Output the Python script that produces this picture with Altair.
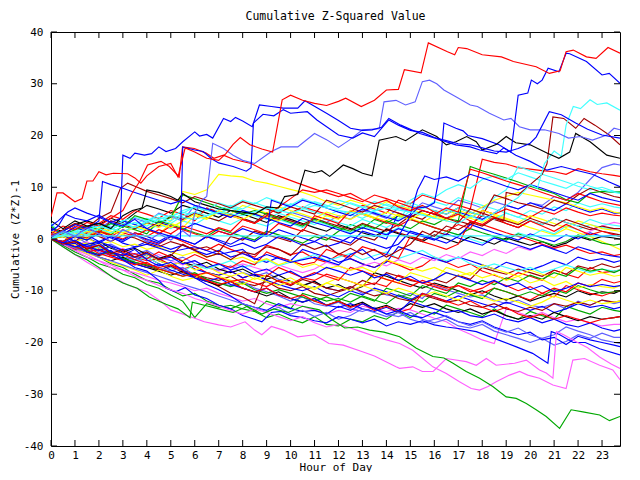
import altair as alt
import pandas as pd

FONT = "DejaVu Sans Mono"
FS = 11
TITLE = "Cumulative Z-Squared Value"

RED = "#ff0000"
DRED = "#a00000"
GREEN = "#00a800"
BLUE = "#0000ff"
LBLUE = "#6060ff"
MAG = "#ff60ff"
CYAN = "#40ffff"
YEL = "#ffff00"
BLACK = "#000000"

X_TICKS = list(range(24))
Y_TICKS = list(range(-40, 41, 10))

# half-hour sampling grid used by the denser mid-band series
HALF_HOURS = [i / 2 for i in range(48)] + [23.75]

# ---------- traced outlier series: (hour, value) ----------
red_top = [(0, 4.3), (0.25, 8.9), (0.5, 8.9), (1.0, 7.2), (1.3, 7.8), (1.5, 11.2), (1.75, 11.2), (2.0, 13.0),
           (2.3, 12.4), (2.6, 12.7), (3.2, 12.6), (3.5, 11.8), (3.75, 10.8), (4.0, 12.2), (4.5, 14.0), (5.0, 14.6),
           (5.3, 12.0), (5.6, 17.6), (6.0, 16.8), (6.5, 15.6), (7.0, 15.2), (7.3, 16.5), (7.6, 18.3), (7.9, 19.6),
           (8.3, 18.2), (8.8, 17.4), (9.25, 16.8), (9.65, 26.9), (10.0, 27.8), (10.5, 26.8), (11.0, 26.2),
           (11.5, 25.8), (12.0, 26.6), (12.3, 27.2), (12.95, 25.6), (13.5, 26.8), (14.0, 28.8), (14.5, 28.9),
           (14.75, 32.7), (15.45, 32.1), (15.75, 37.9), (16.55, 36.2), (16.85, 35.6), (17.0, 37.0), (17.35, 36.8),
           (18.0, 35.6), (18.8, 35.2), (19.3, 34.3), (20.25, 33.3), (20.8, 32.0), (21.25, 32.5), (21.5, 36.2),
           (21.8, 36.5), (22.35, 35.2), (22.75, 34.9), (23.25, 37.0), (23.75, 35.9)]

blue_a = [(0, 1.5), (0.3, 2.5), (0.6, 4.8), (1.0, 4.0), (1.5, 3.5), (2.0, 4.6), (2.5, 3.2), (2.9, 4.0),
          (3.0, 16.2), (3.3, 15.6), (3.5, 16.6), (3.9, 16.2), (4.2, 16.5), (4.5, 17.8), (4.8, 16.9), (5.2, 17.5),
          (5.5, 18.8), (6.0, 20.7), (6.2, 19.9), (6.5, 20.2), (6.75, 19.5), (7.2, 23.3), (7.5, 22.7), (7.7, 23.5),
          (8.0, 22.8), (8.4, 21.7), (8.7, 25.9), (9.2, 25.6), (9.7, 25.3), (10.3, 25.3), (10.6, 26.7), (11.5, 24.3),
          (12.0, 22.9), (12.5, 21.4), (13.0, 21.0), (13.4, 21.1), (13.8, 21.6), (14.1, 23.3), (14.6, 22.0),
          (15.4, 20.4), (16.1, 19.4), (16.9, 18.2), (17.5, 17.8), (17.9, 17.2), (18.6, 16.5), (18.9, 17.6),
          (19.2, 16.8), (19.5, 27.8), (19.9, 28.2), (20.05, 30.7), (20.3, 30.0), (20.5, 30.7), (20.75, 33.0),
          (21.2, 32.3), (21.5, 35.9), (21.65, 35.8), (22.35, 34.3), (23.0, 31.7), (23.3, 32.0), (23.75, 30.1)]

blue_b = [(0, 2.5), (0.3, 3.5), (0.7, 5.2), (1.0, 6.0), (1.5, 5.0), (2.0, 4.2), (2.5, 3.2), (3.0, 2.5),
          (3.5, 3.8), (4.0, 2.0), (4.5, 1.2), (5.0, 0.5), (5.4, 0.0), (5.5, 17.8), (6.0, 17.2), (6.35, 16.9),
          (6.7, 15.5), (7.0, 14.7), (7.6, 14.0), (8.15, 13.1), (8.35, 13.8), (8.45, 22.4), (8.85, 24.1),
          (9.3, 23.8), (9.7, 25.0), (10.0, 24.3), (10.7, 24.6), (11.1, 23.0), (12.0, 20.1), (12.6, 19.5),
          (13.0, 20.5), (13.5, 19.8), (14.1, 23.0), (14.5, 22.0), (15.0, 21.0), (15.5, 20.6), (16.0, 19.6),
          (16.5, 19.0), (17.0, 18.4), (17.5, 18.2), (18.0, 17.6), (18.5, 17.0), (19.0, 16.8), (19.5, 17.5),
          (20.0, 18.5), (20.25, 19.7), (20.8, 24.6), (21.3, 24.0), (21.9, 22.4), (22.4, 21.2), (23.0, 20.1),
          (23.75, 19.5)]

lblue_top = [(0, 0.5), (0.5, 1.5), (1.0, 0.5), (1.5, 2.2), (2.0, 1.0), (2.5, -0.5), (3.0, 1.8), (3.5, 0.8),
             (4.0, -0.5), (4.5, 1.0), (5.0, -0.2), (5.5, 1.6), (5.8, 0.5), (6.0, 5.0), (6.3, 7.5), (6.5, 8.2),
             (6.75, 18.5), (7.2, 17.5), (7.6, 16.2), (8.0, 15.2), (8.5, 14.6), (9.2, 16.9), (9.6, 17.8),
             (10.3, 17.8), (11.0, 20.4), (11.5, 19.2), (12.0, 17.7), (12.45, 19.1), (13.0, 21.1), (13.7, 21.3),
             (13.9, 26.5), (14.4, 26.8), (14.8, 25.9), (15.2, 26.5), (15.5, 30.4), (15.8, 30.7), (16.1, 30.0),
             (16.4, 28.8), (16.9, 27.5), (17.5, 25.9), (17.8, 25.6), (18.3, 24.3), (18.9, 23.0), (19.2, 23.3),
             (19.55, 21.7), (20.0, 21.1), (20.6, 21.1), (21.2, 20.4), (21.6, 19.5), (22.1, 19.8), (22.6, 19.1),
             (23.2, 20.1), (23.5, 21.4), (23.75, 21.1)]

black_top = [(0, 3.5), (0.5, 2.0), (1.0, 3.5), (1.5, 2.5), (2.0, 3.0), (2.5, 2.0), (3.0, 4.5), (3.4, 5.5),
             (3.8, 6.0), (4.0, 9.5), (4.5, 9.0), (5.0, 8.2), (5.3, 7.5), (5.5, 8.8), (6.0, 7.2), (6.5, 6.5),
             (7.0, 5.8), (7.5, 5.5), (8.0, 5.2), (8.5, 4.8), (9.0, 6.2), (9.5, 6.0), (9.75, 8.2), (10.3, 8.6),
             (10.6, 13.3), (11.0, 12.8), (11.3, 13.2), (11.63, 12.1), (12.2, 14.3), (12.6, 13.6), (13.0, 12.7),
             (13.4, 12.2), (13.7, 19.1), (14.4, 19.8), (14.8, 19.0), (15.5, 21.1), (16.1, 19.8), (16.5, 18.2),
             (16.9, 18.8), (17.35, 19.8), (17.75, 18.8), (18.0, 17.2), (18.6, 18.3), (19.0, 19.8), (19.4, 18.6),
             (20.0, 18.2), (20.7, 16.6), (21.2, 15.6), (21.65, 16.8), (21.9, 20.4), (22.5, 18.8), (23.2, 16.2),
             (23.75, 15.6)]

dred_top = [(0, 0), (0.5, -1.0), (1.0, -0.5), (1.5, -2.0), (2.0, -1.2), (2.5, -2.8), (3.0, -2.0), (3.5, -3.5),
            (4.0, -2.5), (4.5, -4.0), (5.0, -3.2), (5.5, -1.0), (6.0, -2.2), (6.5, -3.5), (7.0, -2.8), (7.5, -4.0),
            (8.0, -2.5), (8.5, -3.0), (9.0, -1.5), (9.5, -2.0), (10.0, -3.2), (10.5, -1.0), (11.0, -2.0),
            (11.5, -1.2), (12.0, -3.0), (12.5, -1.8), (13.0, -3.0), (13.5, -2.0), (14.0, -3.5), (14.5, -2.2),
            (15.0, -1.0), (15.5, 1.5), (16.0, 0.5), (16.5, 2.5), (17.0, 1.8), (17.5, 3.2), (18.0, 2.5), (18.5, 4.0),
            (18.9, 3.5), (19.0, 9.0), (19.5, 8.5), (20.0, 10.5), (20.5, 12.5), (20.7, 14.5), (20.95, 23.6),
            (21.4, 23.3), (21.9, 21.4), (22.25, 23.3), (22.7, 22.0), (23.3, 20.1), (23.75, 18.2)]

cyan_top = [(0, 0), (0.5, 1.5), (1.0, 0.8), (2.0, 2.5), (3.0, 1.5), (4.0, 3.2), (5.0, 4.5), (6.0, 3.8), (7.0, 5.2),
            (8.0, 4.5), (9.0, 6.0), (10.0, 5.0), (11.0, 6.5), (12.0, 5.5), (13.0, 4.8), (14.0, 6.0), (15.0, 5.2),
            (16.0, 4.0), (17.0, 3.0), (17.5, 4.5), (18.0, 3.5), (18.5, 5.0), (19.0, 6.5), (19.5, 8.0), (20.0, 10.5),
            (20.3, 9.8), (20.6, 14.6), (21.0, 17.0), (21.3, 16.0), (21.5, 22.0), (21.8, 25.6), (22.1, 25.2),
            (22.5, 26.9), (22.8, 26.0), (23.2, 26.3), (23.75, 24.9)]

blue_d = [(0, 0), (1, -1.5), (2, -0.5), (3, -2.2), (4, -1.0), (5, -2.5), (6, -1.5), (7, -3.0), (8, -2.0),
          (8.5, -4.0), (9, -3.0), (10, -4.5), (11, -3.5), (12, -5.0), (12.5, -3.0), (13, -2.0), (13.5, -4.0),
          (14, -3.0), (14.5, 0.5), (15.0, 4.5), (15.3, 6.0), (15.7, 6.2), (16.0, 7.0), (16.2, 11.8), (16.4, 22.4),
          (16.9, 21.4), (17.2, 20.9), (17.4, 20.0), (18.0, 19.4), (18.7, 18.2), (19.4, 16.2), (20.0, 15.0),
          (20.7, 13.3), (21.3, 14.0), (22.0, 13.2), (22.6, 12.5), (23.3, 11.0), (23.75, 10.1)]

blue_low1 = [(0, 0), (0.5, -1.2), (1, -0.8), (1.5, -2.5), (2, -3.0), (2.5, -2.2), (3, -4.0), (3.5, -5.5), (4, -6.2),
             (4.5, -8.0), (4.8, -9.5), (5.2, -10.2), (5.6, -9.4), (6, -10.8), (6.5, -11.5), (7, -12.8),
             (7.5, -13.5), (8, -14.8), (8.5, -15.5), (8.8, -16.0), (9.2, -14.2), (9.6, -14.0), (10, -14.8),
             (10.5, -15.2), (11, -15.8), (11.5, -16.2), (12, -15.0), (12.5, -15.5), (13, -16.2), (13.5, -15.5),
             (14, -16.8), (14.5, -16.0), (15, -16.5), (15.5, -15.8), (16, -16.6), (16.5, -17.0), (17, -17.3),
             (17.75, -17.9), (18.5, -19.2), (19.4, -20.8), (20.1, -22.1), (20.74, -24.0), (20.88, -17.9),
             (21.2, -18.4), (21.8, -20.0), (22.3, -20.0), (22.9, -21.2), (23.75, -22.4)]

mag_a = [(0, 0), (0.5, -1.5), (1, -3.0), (1.5, -4.5), (2.3, -6.6), (3.2, -8.9), (4.0, -10.2), (4.6, -12.1),
         (5.0, -13.7), (6.0, -15.3), (6.4, -16.0), (7.0, -16.6), (7.5, -17.0), (8.1, -16.0), (8.5, -17.6),
         (8.8, -18.5), (9.2, -16.9), (9.7, -17.6), (10.3, -18.9), (11.0, -18.5), (11.6, -20.2), (12.2, -20.5),
         (13.0, -21.8), (13.5, -22.6), (14.4, -24.7), (14.55, -25.0), (15.1, -24.7), (15.5, -25.6), (15.95, -25.6),
         (16.5, -23.1), (17.33, -23.7), (17.75, -24.4), (18.17, -23.1), (18.58, -24.4), (19.35, -24.0),
         (19.84, -23.4), (20.39, -25.3), (20.67, -25.9), (20.95, -26.9), (21.1, -17.9), (21.4, -18.5),
         (21.9, -19.8), (22.4, -21.0), (22.9, -22.8), (23.4, -24.2), (23.75, -25.0)]

mag_b = [(0, 0), (0.5, -1.0), (1, -2.2), (1.5, -3.5), (2, -4.2), (2.5, -5.5), (3, -6.0), (3.5, -7.2), (4, -8.0),
         (4.5, -9.0), (5, -9.8), (5.5, -10.5), (6, -11.5), (6.5, -12.2), (7, -13.0), (7.5, -13.8), (8, -14.5),
         (8.5, -13.5), (9, -14.2), (9.5, -15.0), (10, -15.8), (10.5, -15.0), (11, -16.2), (11.5, -17.0),
         (12, -16.5), (12.5, -17.2), (13, -18.0), (13.5, -18.8), (14, -19.5), (14.55, -20.2), (15.1, -21.5),
         (15.94, -24.7), (16.5, -26.0), (17.05, -27.6), (17.54, -28.9), (17.89, -29.2), (18.24, -28.5),
         (18.58, -27.6), (19.14, -26.3), (19.56, -25.6), (19.9, -26.3), (20.39, -26.9), (20.95, -28.2),
         (21.5, -28.9), (21.78, -23.4), (22.27, -23.1), (22.9, -24.4), (23.45, -25.3), (23.75, -27.2)]

green_bottom = [(0, 0), (0.5, -1.5), (1, -3.0), (1.5, -4.0), (2, -5.5), (2.6, -7.5), (3.0, -8.5), (3.6, -9.5),
                (4.1, -11.2), (4.8, -12.6), (5.3, -13.5), (5.8, -15.2), (5.9, -12.2), (6.4, -12.8), (7.0, -13.5),
                (7.6, -14.2), (8.2, -13.0), (8.8, -14.5), (9.3, -13.5), (9.9, -14.2), (10.5, -13.0), (11.2, -13.7),
                (11.7, -15.5), (12.26, -17.2), (12.8, -17.0), (13.3, -17.6), (13.9, -18.0), (14.55, -18.9),
                (15.25, -21.1), (15.94, -22.7), (16.4, -23.0), (16.78, -24.0), (17.33, -25.6), (17.89, -26.9),
                (18.44, -28.5), (19.0, -30.5), (19.42, -30.8), (19.84, -31.8), (20.25, -33.0), (20.67, -34.3),
                (21.23, -36.6), (21.71, -33.0), (22.2, -33.4), (22.9, -34.0), (23.31, -35.1), (23.75, -34.3)]

cyan_flat = [(0, 0), (0.25, 0.6), (23.75, 0.6)]

red_up2 = [(0, 1.0), (0.5, 2.5), (1, 1.8), (1.5, 3.2), (2, 2.5), (2.5, 4.0), (3, 5.5), (3.4, 9.0), (3.7, 11.1),
           (4.03, 14.3), (4.59, 15.0), (4.94, 14.0), (5.35, 12.0), (5.49, 17.8), (5.98, 17.5), (6.47, 16.6),
           (6.8, 15.6), (7.2, 16.2), (7.6, 15.4), (8.35, 14.6), (8.9, 13.3), (9.6, 12.0), (10.3, 10.8),
           (11.1, 9.5), (12.0, 8.2), (12.5, 8.8), (13.0, 7.6), (13.5, 6.8), (14.0, 7.5), (14.5, 6.2), (15.0, 5.5),
           (15.5, 6.5), (16.0, 5.2), (16.5, 4.0), (17.0, 4.8), (17.5, 3.5), (18.0, 2.8), (18.5, 4.2), (19.0, 3.0),
           (19.5, 2.2), (20.0, 3.5), (20.5, 2.5), (21.0, 1.5), (21.5, 2.8), (22.0, 1.8), (22.5, 0.8), (23.0, 1.5),
           (23.75, 0.5)]
dred_up2 = [(0, 0.5), (0.5, 1.8), (1, 3.0), (1.5, 2.2), (2, 4.0), (2.5, 5.2), (2.9, 9.8), (3.2, 10.8), (3.6, 10.0),
            (4, 9.2), (4.5, 8.5), (5, 7.8), (5.5, 7.0), (6, 8.2), (6.5, 7.5), (7, 6.8), (7.5, 6.0), (8, 7.2),
            (8.5, 6.5), (9, 5.8), (9.5, 5.0), (10, 6.2), (10.5, 5.5), (11, 4.8), (11.5, 7.5), (12, 6.8), (12.5, 6.0),
            (13, 5.2), (13.5, 6.5), (14, 5.8), (14.5, 5.0), (15, 4.2), (15.5, 5.5), (16, 4.8), (16.5, 4.0),
            (17, 3.2), (17.5, 5.8), (18, 5.0), (18.5, 4.2), (19, 3.5), (19.5, 2.8), (20, 4.0), (20.5, 3.2),
            (21, 2.5), (21.5, 3.8), (22, 3.0), (22.5, 2.2), (23, 1.5), (23.75, 0.8)]
blue_up2 = [(0, 0), (0.5, 1.5), (1, 2.8), (1.5, 2.0), (2.0, 3.5), (2.15, 11.1), (2.5, 10.5), (3, 9.8), (3.5, 9.0),
            (4, 8.2), (4.5, 7.5), (5, 6.8), (5.5, 7.5), (6, 6.5), (6.5, 5.8), (7, 5.0), (7.5, 4.2), (8, 5.5),
            (8.5, 4.8), (9, 4.0), (9.5, 3.2), (10, 2.5), (10.5, 4.0), (11, 3.2), (11.5, 2.5), (12, 1.8), (12.5, 1.0),
            (13, 2.2), (13.5, 1.5), (14, 0.8), (14.5, 2.0), (15, 1.2), (15.5, 0.5), (16, -0.2), (16.5, 1.0),
            (17, 0.2), (17.5, -0.5), (18, -1.2), (18.5, 0.2), (19, -0.5), (19.5, -1.2), (20, -2.0), (20.5, -1.2),
            (21, -2.0), (21.5, -2.8), (22, -1.5), (22.5, -2.2), (23, -3.0), (23.75, -3.5)]
blue_up3 = [(0, 0), (0.5, -0.8), (1, 0.5), (1.5, -0.2), (2, 1.0), (2.5, 0.2), (3, -0.5), (3.5, 0.8), (4, 0.0),
            (4.5, -0.8), (5, 0.5), (5.5, -0.2), (6, -1.0), (6.5, 0.5), (7, -0.2), (7.5, -1.0), (8, 0.2), (8.5, -0.5),
            (9, 1.0), (9.2, 7.5), (9.5, 7.0), (10, 6.2), (10.5, 7.5), (11, 6.8), (11.5, 6.0), (12, 5.2), (12.5, 4.5),
            (13, 5.8), (13.5, 5.0), (14, 4.2), (14.5, 3.5), (15, 4.8), (15.3, 9.5), (15.6, 12.2), (16, 11.5),
            (16.5, 12.0), (17, 11.2), (17.5, 12.5), (18, 11.8), (18.5, 11.0), (19, 10.2), (19.5, 9.5), (20, 10.5),
            (20.5, 9.8), (21, 9.0), (21.5, 8.2), (22, 7.5), (22.5, 8.8), (23, 8.0), (23.75, 7.2)]
cyan_up2 = [(0, 0), (0.5, 0.8), (1, 1.5), (1.5, 0.8), (2, 2.0), (2.5, 1.2), (3, 2.5), (3.5, 3.2), (4, 2.5),
            (4.5, 3.8), (5, 3.0), (5.5, 4.5), (6, 5.2), (6.5, 4.5), (7, 5.8), (7.5, 6.5), (8, 5.8), (8.5, 7.0),
            (9, 6.2), (9.5, 5.5), (10, 6.8), (10.5, 6.0), (11, 7.2), (11.5, 6.5), (12, 5.8), (12.5, 7.0), (13, 6.2),
            (13.5, 5.5), (14, 6.8), (14.5, 6.0), (15, 7.5), (15.5, 8.8), (16, 8.0), (16.5, 9.5), (17, 10.5),
            (17.5, 9.8), (18, 11.5), (18.5, 12.2), (19, 11.5), (19.5, 12.8), (20, 12.0), (20.5, 11.2), (21, 10.5),
            (21.5, 9.8), (22, 11.0), (22.5, 10.2), (23, 9.5), (23.75, 8.8)]
red_up3 = [(0, 0), (0.5, -0.5), (1, 0.8), (1.5, 0.2), (2, 1.5), (2.5, 0.8), (3, 0.0), (3.5, 1.2), (4, 0.5),
           (4.5, 1.8), (5, 1.0), (5.5, 2.5), (6, 1.8), (6.5, 1.0), (7, 2.2), (7.5, 1.5), (8, 3.8), (8.5, 3.0),
           (9, 4.5), (9.5, 6.2), (10, 7.8), (10.5, 9.5), (11, 9.0), (11.5, 9.5), (12, 8.8), (12.5, 8.0), (13, 7.2),
           (13.5, 8.5), (14, 7.8), (14.5, 7.0), (15, 6.2), (15.5, 5.5), (16, 4.8), (16.5, 6.0), (17, 5.2),
           (17.5, 13.5), (18, 12.8), (18.5, 12.0), (19, 11.2), (19.5, 10.5), (20, 9.8), (20.5, 9.0), (21, 8.2),
           (21.5, 7.5), (22, 8.8), (22.5, 8.0), (23, 7.2), (23.75, 6.5)]
lblue_low2 = [(0, 0), (0.5, -0.8), (1, -1.8), (1.5, -2.5), (2, -3.5), (2.5, -4.2), (3, -5.0), (3.5, -5.8),
              (4, -6.5), (4.5, -7.2), (5, -8.0), (5.5, -8.8), (6, -9.5), (6.5, -10.2), (7, -11.0), (7.5, -11.8),
              (8, -12.5), (8.5, -13.2), (9, -14.0), (9.5, -13.2), (10, -14.5), (10.5, -13.8), (11, -15.0),
              (11.5, -14.2), (12, -15.5), (12.5, -14.8), (13, -13.5), (13.5, -14.2), (14, -15.0), (14.5, -14.2),
              (15, -15.5), (15.5, -16.2), (16, -15.5), (16.5, -14.8), (17, -16.0), (17.5, -16.8), (18, -16.0),
              (18.5, -17.2), (19, -18.0), (19.5, -17.2), (20, -18.5), (20.5, -19.2), (21, -18.5), (21.5, -17.0),
              (22, -17.8), (22.5, -18.5), (23, -19.5), (23.75, -20.2)]
cyan_up3 = [(0, 0.5), (0.5, 1.2), (1, 0.5), (1.5, 1.8), (2, 2.5), (2.5, 1.8), (3, 3.0), (3.5, 2.2), (4, 3.5),
            (4.5, 4.2), (5, 3.5), (5.5, 5.0), (6, 6.2), (6.5, 5.5), (7, 7.0), (7.5, 6.2), (8, 7.5), (8.5, 6.8),
            (9, 8.0), (9.5, 7.2), (10, 6.5), (10.5, 7.8), (11, 7.0), (11.5, 6.2), (12, 7.5), (12.5, 6.8), (13, 6.0),
            (13.5, 7.2), (14, 6.5), (14.5, 5.8), (15, 7.0), (15.5, 6.2), (16, 5.5), (16.5, 4.8), (17, 6.0),
            (17.5, 5.2), (18, 4.5), (18.5, 3.8), (19, 5.0), (19.5, 4.2), (20, 3.5), (20.5, 2.8), (21, 4.0),
            (21.5, 3.2), (22, 2.5), (22.5, 3.8), (23, 3.0), (23.75, 2.5)]
yel_up2 = [(0, 0), (0.5, 0.8), (1, 0.2), (1.5, 1.5), (2, 0.8), (2.5, 2.0), (3, 1.2), (3.5, 2.5), (4, 1.8),
           (4.5, 3.0), (5, 2.2), (5.5, 3.5), (6, 4.8), (6.5, 4.0), (7, 5.2), (7.5, 4.5), (8, 3.8), (8.5, 5.0),
           (9, 4.2), (9.5, 3.5), (10, 4.8), (10.5, 4.0), (11, 3.2), (11.5, 4.5), (12, 3.8), (12.5, 5.5), (13, 4.8),
           (13.5, 4.0), (14, 5.2), (14.5, 4.5), (15, 3.8), (15.5, 5.0), (16, 4.2), (16.5, 3.5), (17, 4.8),
           (17.5, 4.0), (18, 5.5), (18.5, 4.8), (19, 4.0), (19.5, 3.2), (20, 4.5), (20.5, 3.8), (21, 3.0),
           (21.5, 2.2), (22, 3.5), (22.5, 2.8), (23, 2.0), (23.75, 1.5)]

# ---------- mid-band series on the half-hour grid ----------
m1 = [1.0, 1.5, 0.8, 2.2, 1.5, 0.5, 1.8, 0.8,
      -0.2, -1.0, 0.5, -0.5, -1.5, -2.2, -1.0, -2.0,
      -2.8, -3.5, -1.2, -2.0, -3.0, -2.5, -3.8, -4.5,
      -3.0, -3.8, -4.8, -5.5, -4.2, -5.0, -6.0, -5.2,
      -3.5, -4.5, -5.5, -4.8, -6.2, -7.0, -7.8, -6.5,
      -7.2, -8.0, -6.0, -6.8, -7.5, -5.5, -6.5, -6.2,
      -6.0]
m2 = [0, -0.8, -1.5, -1.0, -2.2, -3.0, -2.5, -3.5,
      -4.2, -3.8, -5.0, -5.8, -5.2, -6.5, -7.0, -6.2,
      -7.5, -6.8, -7.2, -5.5, -6.5, -7.5, -8.0, -6.8,
      -7.5, -8.2, -9.0, -8.5, -9.2, -7.0, -7.8, -8.5,
      -9.2, -10.0, -9.0, -9.8, -10.5, -9.5, -10.2, -11.0,
      -11.8, -10.5, -11.2, -9.0, -9.8, -10.5, -11.0, -10.2,
      -10.0]
m3 = [0.5, 0.8, 2.5, 1.8, 3.0, 4.5, 3.8, 5.5,
      4.8, 4.0, 5.5, 4.8, 3.5, 6.0, 5.2, 4.5,
      3.8, 3.0, 4.5, 3.8, 5.0, 6.2, 5.5, 4.8,
      4.0, 5.2, 6.5, 5.8, 5.0, 7.5, 6.8, 8.5,
      7.8, 7.0, 6.5, 5.8, 15.4, 14.8, 14.5, 13.8,
      13.5, 13.2, 13.0, 12.5, 13.6, 13.0, 12.6, 12.3,
      12.1]
m4 = [0, -1.0, -0.5, -1.8, -1.2, -2.5, -3.2, -2.8,
      -3.8, -2.5, -3.5, -4.2, -3.0, -4.0, -4.8, -5.5,
      -4.2, -5.0, -2.5, -3.5, -4.2, -5.0, -4.5, -2.0,
      -2.8, -3.5, -1.5, -2.2, -3.0, -3.8, 0.5, -0.5,
      -1.2, -2.0, -1.0, 3.5, 2.8, 2.0, 1.2, 0.5,
      -0.2, -1.0, -1.8, -1.2, -2.0, -2.8, -2.5, -3.2,
      -3.0]
m5 = [0, -0.5, -1.5, -2.5, -2.0, -3.2, -3.0, -4.0,
      -4.8, -5.5, -5.0, -6.2, -7.0, -6.5, -7.5, -8.2,
      -7.8, -8.5, -9.2, -8.0, -8.8, -7.5, -6.5, -7.2,
      -8.0, -5.5, -6.2, -7.0, -7.8, -8.5, -9.2, -8.0,
      -8.8, -9.5, -9.0, -10.2, -9.5, -8.2, -9.0, -10.0,
      -9.2, -10.5, -9.5, -10.2, -8.5, -9.2, -7.8, -8.5,
      -8.2]
r6 = [0.8, 0.8, 0.2, 1.5, 0.8, 2.0, 1.2, 0.5,
      1.8, 1.0, 2.5, 1.8, 1.0, 0.2, 1.5, 0.8,
      2.5, 1.8, 1.0, 3.0, 2.2, 1.5, 4.5, 3.8,
      3.0, 5.5, 4.8, 4.0, 3.2, 2.5, 3.8, 3.0,
      2.2, 1.5, 2.8, 2.0, 5.5, 4.8, 5.8, 5.0,
      4.2, 5.5, 4.8, 6.0, 5.2, 4.5, 5.0, 4.6,
      4.5]
r7 = [0, -1.0, -2.0, -1.5, -2.8, -3.5, -4.2, -5.0,
      -4.5, -5.8, -6.5, -7.2, -6.8, -8.0, -8.8, -8.2,
      -9.5, -10.2, -9.5, -10.8, -11.5, -10.8, -12.0, -12.8,
      -12.0, -13.2, -12.5, -13.8, -13.0, -14.2, -13.5, -10.5,
      -11.2, -12.0, -12.8, -12.0, -13.2, -14.0, -13.2, -14.5,
      -15.2, -14.5, -15.5, -14.8, -15.5, -16.2, -15.5, -15.2,
      -15.0]
d1 = [0, -0.8, -1.5, -2.2, -1.5, -2.8, -3.5, -4.2,
      -3.5, -4.8, -5.5, -6.0, -6.8, -7.5, -8.0, -7.2,
      -8.5, -9.0, -8.2, -9.5, -10.0, -9.2, -10.5, -11.0,
      -10.2, -9.5, -8.0, -8.8, -6.5, -7.2, -8.0, -8.5,
      -7.8, -8.5, -7.0, -7.8, -5.5, -6.2, -6.8, -5.8,
      -6.5, -7.2, -6.0, -6.8, -5.2, -5.8, -4.8, -5.5,
      -5.2]
d2 = [1.5, 0.5, -0.5, 1.2, 0.5, -0.5, 0.8, 0.2,
      -0.8, -1.5, -0.5, -1.2, -2.0, -1.5, -2.5, 0.5,
      -0.2, 1.5, 0.8, 0.2, -0.5, 1.8, 1.0, 0.2,
      -0.5, -1.2, 0.5, -0.2, 2.0, 1.2, 0.5, -0.2,
      1.5, 0.8, 3.5, 2.8, 4.5, 3.8, 3.0, 2.2,
      3.5, 2.8, 4.0, 3.2, 2.5, 1.8, 2.5, 2.0,
      2.0]
d3 = [0, -1.0, -1.8, -2.5, -3.2, -2.5, -3.8, -4.5,
      -5.2, -6.0, -5.2, -6.5, -7.2, -8.0, -9.2, -10.5,
      -11.2, -12.5, -7.0, -8.2, -9.0, -7.8, -8.5, -9.5,
      -10.0, -9.2, -10.2, -11.0, -10.5, -11.5, -12.0, -10.8,
      -11.5, -12.2, -11.8, -12.8, -13.2, -12.5, -13.5, -14.0,
      -13.2, -13.8, -12.5, -13.0, -12.2, -12.8, -11.8, -12.2,
      -12.0]
d4 = [0, 1.2, 0.5, 2.0, 1.2, 3.5, 2.8, 2.0,
      3.2, 2.5, 4.5, 3.8, 5.0, 4.2, 3.5, 4.8,
      4.0, 3.2, 5.0, 4.2, 3.5, 2.8, 4.0, 3.2,
      2.5, 1.8, 3.0, 2.2, 1.5, 2.8, 4.5, 3.8,
      5.5, 4.8, 6.0, 5.2, 4.5, 8.5, 7.8, 7.0,
      6.5, 5.8, 7.5, 6.8, 8.5, 9.8, 9.0, 8.2,
      8.0]
b1 = [0, 0.8, 1.5, 0.8, -0.5, 0.5, -0.8, -1.5,
      -0.5, -1.2, -2.0, -1.2, -2.2, -3.0, -2.2, -3.5,
      -2.8, -3.8, -4.5, -3.5, -4.2, -2.0, -2.8, -3.5,
      -4.5, -3.8, -4.8, -5.5, -4.5, -1.5, -2.2, -3.0,
      -3.8, -4.5, -3.5, -4.2, -5.0, -5.8, -4.5, -5.2,
      -6.0, -5.2, -4.2, -5.0, -3.5, -4.2, -3.8, -4.5,
      -4.2]
b2 = [0, -0.5, -1.5, -1.0, -2.0, -2.8, -3.5, -4.0,
      -3.0, -4.2, -5.0, -4.5, -5.8, -6.5, -7.0, -6.2,
      -7.5, -6.8, -8.0, -8.8, -9.5, -10.0, -9.2, -10.5,
      -11.2, -10.0, -10.8, -9.5, -10.2, -11.0, -11.8, -10.5,
      -11.2, -12.0, -11.0, -11.8, -12.5, -13.2, -12.2, -13.0,
      -13.8, -13.0, -14.2, -13.5, -12.5, -13.2, -12.8, -13.5,
      -13.2]
b3 = [2.0, 1.0, 2.2, 1.5, 3.0, 2.2, 3.5, 2.8,
      2.0, 3.2, 2.5, 1.8, 3.0, 2.2, 1.5, 0.8,
      2.0, 1.2, 0.5, 1.8, 1.0, 0.2, -0.5, 0.8,
      0.0, -0.8, 1.5, 0.8, 0.0, 5.0, 4.2, 5.5,
      4.8, 4.0, 5.2, 4.5, 3.8, 5.0, 6.5, 5.8,
      7.0, 6.2, 5.5, 6.8, 6.0, 5.2, 5.8, 5.0,
      5.0]
b4 = [0, -0.8, -1.8, -2.5, -2.0, -3.2, -4.0, -4.8,
      -5.5, -4.8, -6.0, -6.8, -7.5, -8.2, -7.5, -8.8,
      -9.5, -10.2, -9.5, -10.8, -11.5, -12.2, -11.5, -12.8,
      -13.2, -12.5, -13.5, -14.0, -13.2, -14.2, -12.0, -12.8,
      -13.5, -14.2, -13.8, -14.8, -15.2, -14.5, -15.5, -16.0,
      -15.2, -16.2, -15.5, -16.5, -17.0, -16.2, -17.2, -17.8,
      -17.5]
b5 = [0, -0.5, 0.8, 0.2, -0.8, 0.5, -0.2, 1.2,
      0.5, -0.5, 0.8, -0.2, -1.0, 0.5, -0.5, -1.5,
      -0.8, -1.8, -1.0, 0.5, -0.2, -1.2, -0.5, -1.5,
      -0.8, 0.5, -0.2, -1.0, -1.8, -1.0, 1.5, 0.8,
      0.0, -0.8, 0.5, 2.8, 2.0, 1.2, 0.5, -0.2,
      1.0, 0.2, -0.5, 0.8, 0.0, 1.2, 0.5, 0.8,
      0.5]
b6 = [0, -0.8, -0.2, -1.5, -2.2, -1.5, -2.8, -3.5,
      -2.8, -4.0, -3.5, -4.8, -4.2, -5.5, -4.8, -6.0,
      -5.2, -6.5, -5.8, -7.0, -6.2, -7.5, -6.8, -5.5,
      -6.2, -7.0, -6.2, -7.5, -6.8, -8.0, -7.2, -8.5,
      -7.8, -6.5, -7.2, -8.0, -8.8, -8.0, -9.2, -8.5,
      -9.8, -9.0, -10.2, -9.5, -8.5, -9.2, -8.8, -9.2,
      -9.0]
b7 = [0, 0.8, -0.5, -1.5, -0.8, -2.5, -3.2, -2.0,
      -4.0, -5.2, -4.5, -6.0, -7.5, -8.8, -9.8, -11.0,
      -12.5, -13.2, -13.8, -12.5, -13.4, -14.0, -13.8, -14.5,
      -13.0, -13.8, -12.5, -13.5, -14.5, -13.8, -14.8, -15.2,
      -14.2, -15.0, -16.0, -16.5, -15.8, -17.0, -17.8, -18.5,
      -18.0, -19.5, -19.0, -20.4, -18.8, -19.5, -20.0, -20.5,
      -20.8]
lb1 = [0, -0.5, 0.5, -0.8, -1.5, -1.0, -2.2, -3.0,
       -2.2, -3.5, -4.2, -3.5, -4.8, -5.5, -6.0, -5.2,
       -6.5, -7.2, -6.5, -7.8, -8.2, -9.0, -8.2, -9.5,
       -10.0, -9.2, -10.5, -9.8, -10.8, -11.2, -10.5, -11.5,
       -9.0, -9.8, -10.5, -11.2, -10.8, -11.8, -12.5, -11.8,
       -12.8, -13.2, -12.5, -13.5, -12.0, -12.8, -11.8, -12.5,
       -12.2]
lb2 = [1.0, 0.5, 1.5, 0.8, 2.0, 3.5, 2.8, 4.0,
       3.2, 5.0, 4.2, 3.5, 6.5, 5.8, 5.0, 4.2,
       5.5, 4.8, 4.0, 3.5, 5.2, 4.5, 3.8, 3.2,
       4.5, 3.8, 5.5, 4.8, 4.0, 6.0, 5.2, 7.0,
       6.2, 5.5, 7.5, 6.8, 6.0, 7.2, 6.5, 5.8,
       7.0, 6.5, 8.2, 7.5, 9.0, 11.5, 13.8, 14.5,
       14.3]
lb3 = [0, -1.0, -1.8, -1.2, -2.5, -3.2, -4.0, -3.5,
       -4.8, -5.5, -6.2, -5.5, -7.0, -7.8, -8.5, -9.0,
       -8.2, -9.5, -10.2, -11.0, -12.0, -11.2, -12.5, -13.0,
       -12.2, -13.5, -14.0, -13.2, -14.5, -15.0, -14.2, -15.5,
       -16.2, -15.5, -16.8, -17.2, -16.5, -17.8, -18.5, -19.2,
       -20.0, -19.2, -20.5, -19.8, -18.5, -19.2, -18.2, -19.0,
       -19.0]
g1 = [2.5, 0.8, 1.8, 2.5, 1.8, 3.0, 2.2, 4.5,
      3.8, 3.0, 4.2, 8.5, 7.8, 7.0, 6.2, 5.5,
      4.8, 5.5, 4.8, 4.0, 3.2, 2.5, 3.8, 3.0,
      2.2, 1.5, 2.8, 2.0, 3.5, 2.8, 2.0, 3.5,
      2.8, 4.0, 3.5, 14.0, 13.2, 12.5, 11.8, 11.0,
      10.2, 9.5, 8.8, 7.6, 7.0, 8.9, 9.2, 9.0,
      9.1]
g2 = [0, -1.2, -2.5, -3.5, -4.8, -5.5, -6.8, -7.5,
      -8.8, -9.5, -10.8, -12.0, -15.2, -12.5, -13.2, -12.8,
      -13.5, -14.0, -12.0, -12.8, -13.5, -10.5, -11.2, -12.0,
      -11.5, -12.2, -11.0, -11.8, -12.5, -10.8, -11.5, -12.2,
      -10.5, -11.2, -10.0, -10.8, -11.5, -9.5, -10.2, -11.0,
      -10.2, -11.0, -9.8, -10.5, -9.0, -9.8, -10.5, -10.2,
      -10.0]
g3 = [0, -0.5, 0.8, -0.2, 1.5, 0.8, 2.5, 1.8,
      1.0, 3.5, 2.8, 2.0, 1.2, 0.5, 2.0, 1.2,
      0.5, -0.2, 1.5, 0.8, 0.0, -0.8, 0.5, -0.2,
      1.5, 2.8, 2.0, 3.8, 3.0, 4.5, 3.8, 3.0,
      2.2, 1.5, 0.8, 2.0, 1.2, 0.5, -0.2, 1.0,
      0.2, -0.5, -1.2, -0.5, 0.8, 0.0, -0.8, -1.2,
      -1.0]
g4 = [0, -0.8, -1.5, -2.2, -3.0, -2.5, -3.8, -4.5,
      -5.0, -5.8, -6.5, -7.2, -6.5, -7.8, -8.5, -9.2,
      -8.5, -9.8, -10.5, -9.8, -10.5, -11.2, -12.0, -11.2,
      -12.0, -10.5, -11.2, -12.0, -9.5, -10.2, -11.0, -9.0,
      -9.8, -10.5, -8.5, -9.2, -8.0, -8.8, -7.5, -8.2,
      -7.0, -7.8, -6.5, -7.2, -5.5, -6.2, -5.8, -6.5,
      -6.0]
g5 = [0, -1.0, -2.2, -2.0, -3.5, -4.8, -5.5, -6.8,
      -8.0, -8.5, -9.8, -11.0, -10.5, -12.0, -12.8, -13.5,
      -12.5, -14.0, -15.2, -14.5, -15.5, -16.2, -15.0, -16.5,
      -16.8, -15.5, -16.0, -14.8, -15.5, -14.0, -15.2, -13.8,
      -14.5, -12.8, -13.5, -14.2, -15.0, -13.5, -14.8, -15.5,
      -14.0, -14.8, -15.5, -13.0, -13.8, -14.5, -13.2, -13.8,
      -14.0]
mg1 = [0, -0.5, -1.2, -0.5, -1.8, -2.5, -1.8, -3.0,
       -3.8, -3.0, -4.2, -5.0, -4.2, -5.5, -6.2, -5.5,
       -4.8, -5.5, -6.2, -5.0, -5.8, -6.5, -5.8, -4.5,
       -5.2, -6.0, -5.2, -4.5, -5.2, -4.0, -4.8, -3.5,
       -4.2, -3.0, -3.8, -2.5, -3.2, -2.0, -2.8, -1.5,
       -2.2, -1.0, -1.8, -0.5, 0.5, 1.5, 2.5, 3.2,
       3.0]
mg2 = [0, -1.0, -2.0, -3.0, -4.2, -5.0, -6.0, -6.5,
       -7.2, -8.0, -8.5, -9.2, -10.0, -9.5, -10.5, -11.2,
       -12.0, -11.5, -12.5, -13.2, -12.5, -13.0, -13.8, -14.5,
       -13.8, -14.2, -13.0, -13.5, -14.0, -13.4, -13.7, -14.5,
       -15.3, -16.0, -17.4, -18.4, -19.5, -20.2, -13.5, -14.2,
       -15.0, -14.2, -15.2, -16.0, -15.5, -16.2, -16.8, -16.5,
       -16.5]
y1 = [0, 0.5, 1.2, 0.5, 1.8, 1.0, 2.5, 1.8,
      3.0, 2.2, 3.5, 9.2, 8.6, 9.5, 12.5, 12.2,
      12.0, 11.2, 10.8, 10.2, 9.6, 9.0, 8.2, 7.2,
      6.5, 7.5, 6.8, 6.0, 7.2, 6.5, 5.8, 5.0,
      4.2, 5.5, 4.8, 4.0, 3.2, 4.5, 3.8, 3.0,
      2.2, 1.5, 0.8, 2.0, 1.2, 0.5, -0.5, -1.5,
      -2.0]
y2 = [0, -0.5, -1.2, -0.8, -2.0, -1.5, -2.8, -3.5,
      -3.0, -4.2, -5.0, -4.5, -6.0, -5.2, -6.5, -7.2,
      -6.5, -7.8, -7.0, -8.2, -7.5, -8.8, -9.5, -8.5,
      -7.5, -8.2, -9.0, -7.0, -7.8, -8.5, -6.5, -7.2,
      -8.0, -5.5, -6.2, -7.0, -5.0, -5.8, -6.5, -7.2,
      -6.0, -6.8, -7.5, -5.5, -6.2, -7.0, -6.5, -7.2,
      -7.0]
y3 = [1.5, 0.8, 1.5, 0.8, 2.2, 1.5, 0.8, 2.5,
      1.8, 1.0, 3.0, 2.2, 4.5, 3.8, 5.5, 4.8,
      6.5, 5.8, 5.0, 6.2, 5.5, 4.8, 4.0, 5.2,
      4.5, 3.8, 5.0, 4.2, 3.5, 4.8, 4.0, 3.2,
      4.5, 3.8, 5.5, 4.8, 6.2, 7.5, 8.2, 9.0,
      8.5, 8.0, 7.5, 7.0, 6.2, 5.5, 6.0, 5.2,
      5.0]
y4 = [0, -1.0, -1.8, -2.8, -3.5, -4.5, -5.2, -6.0,
      -7.0, -6.0, -7.2, -8.0, -7.5, -6.5, -7.2, -8.0,
      -8.8, -7.5, -8.2, -9.0, -8.2, -9.0, -9.8, -8.5,
      -9.2, -10.0, -9.0, -9.8, -10.5, -9.5, -10.2, -11.0,
      -10.2, -11.0, -11.8, -10.5, -11.2, -12.0, -11.5, -12.2,
      -13.0, -12.2, -11.0, -11.8, -12.5, -11.8, -12.5, -12.2,
      -12.0]
y5 = [0, 0.5, -0.5, 0.2, -1.0, -0.5, -1.5, -1.0,
      -2.0, -1.5, -2.5, -3.2, -2.5, -3.5, -2.8, -4.0,
      -3.5, -4.5, -3.8, -5.0, -4.2, -5.5, -4.8, -5.8,
      -5.2, -6.0, -5.5, -6.5, -4.0, -4.8, -5.5, -6.2,
      -5.5, -6.5, -7.2, -6.5, -7.5, -6.8, -8.0, -7.2,
      -8.5, -7.8, -9.0, -8.2, -9.5, -8.8, -9.2, -9.5,
      -9.0]
c1 = [1.0, 0.8, 1.5, 2.2, 1.5, 2.8, 3.5, 2.8,
      4.0, 3.2, 4.5, 5.2, 4.5, 5.8, 5.0, 6.2,
      5.5, 4.8, 6.0, 5.2, 6.8, 6.0, 5.2, 4.5,
      5.5, 4.8, 4.0, 5.2, 4.5, 3.8, 6.5, 5.8,
      7.2, 6.5, 8.0, 7.2, 6.5, 5.8, 5.0, 4.2,
      5.5, 4.8, 6.2, 5.5, 7.0, 6.2, 6.8, 6.2,
      6.0]
c2 = [0, 1.0, 0.5, 1.5, 2.5, 1.8, 3.0, 2.2,
      1.5, 2.8, 2.0, 3.5, 2.8, 4.2, 3.5, 2.8,
      4.0, 3.2, 2.5, 3.8, 3.0, 2.2, 3.5, 2.8,
      2.0, 1.2, 2.5, 1.8, 1.0, 2.2, 1.5, 0.8,
      0.0, 1.5, 0.8, 0.0, -0.8, 0.5, -0.2, 1.2,
      0.5, 1.8, 1.0, 2.5, 1.8, 2.8, 2.2, 2.0,
      2.0]
c3 = [0, -0.8, -1.5, -2.2, -1.5, -2.8, -3.5, -4.2,
      -3.5, -4.8, -5.5, -6.2, -5.0, -5.8, -5.0, -4.2,
      -5.5, -4.8, -4.0, -5.2, -4.5, -3.8, -3.0, -4.2,
      -3.5, -2.8, -4.0, -3.2, -2.5, -3.8, -3.0, -2.2,
      -3.5, -4.2, -3.5, -4.8, -5.5, -4.8, -5.5, -6.2,
      -5.5, -6.5, -5.8, -5.0, -5.8, -6.5, -5.8, -6.2,
      -6.0]
c4 = [3.0, 0.5, 1.2, 2.0, 2.8, 2.2, 3.5, 4.2,
      3.5, 4.8, 4.2, 5.5, 6.2, 5.5, 4.8, 6.0,
      5.2, 4.5, 3.8, 5.0, 4.2, 3.5, 2.8, 4.0,
      3.2, 2.5, 3.8, 3.0, 2.2, 3.5, 5.5, 4.8,
      4.0, 5.8, 5.0, 4.2, 5.5, 8.0, 9.5, 14.0,
      13.2, 12.5, 11.8, 11.0, 10.2, 9.5, 10.0, 9.2,
      9.0]
k1 = [0, 0.5, -0.5, -1.2, -0.5, -1.8, -2.5, -1.8,
      -3.0, -3.8, -3.0, -4.5, -5.2, -4.5, -5.8, -6.5,
      -5.8, -7.0, -7.8, -7.0, -8.2, -9.0, -8.2, -9.5,
      -8.8, -10.0, -9.2, -6.5, -7.2, -8.0, -8.8, -9.5,
      -8.5, -9.2, -10.0, -10.8, -10.0, -11.0, -11.8, -11.0,
      -12.0, -11.2, -10.5, -11.2, -10.0, -10.8, -10.2, -10.5,
      -10.0]
k2 = [2.0, 1.5, 2.8, 3.5, 2.8, 4.0, 3.2, 5.0,
      6.5, 5.8, 5.0, 6.5, 5.8, 5.0, 4.2, 5.5,
      4.8, 4.0, 3.2, 4.5, 3.8, 3.0, 2.2, 1.5,
      2.8, 2.0, 1.2, 0.5, 1.8, 1.0, 0.2, -0.5,
      0.8, 0.0, -0.8, 0.5, -0.2, -1.0, 0.2, -0.5,
      -1.2, -0.5, -1.5, -0.8, 0.5, -0.2, 0.5, 0.2,
      0.0]
k3 = [0, -0.8, -1.8, -2.5, -3.5, -4.2, -3.5, -4.8,
      -5.5, -6.2, -7.0, -6.2, -7.5, -8.2, -9.0, -8.2,
      -9.5, -10.2, -11.0, -10.2, -11.5, -12.2, -11.5, -12.8,
      -12.0, -13.0, -12.2, -13.5, -12.8, -13.8, -12.5, -13.2,
      -12.5, -13.5, -14.2, -13.5, -14.5, -13.8, -14.8, -15.5,
      -14.8, -15.5, -14.2, -15.0, -15.8, -15.0, -15.5, -15.2,
      -15.0]

GRID_SERIES = [
    ("m1", RED, m1), ("g5", GREEN, g5), ("b1", BLUE, b1), ("mg1", MAG, mg1), ("c1", CYAN, c1),
    ("d1", DRED, d1), ("y1", YEL, y1), ("lb1", LBLUE, lb1), ("k1", BLACK, k1),
    ("m2", RED, m2), ("g2", GREEN, g2), ("b2", BLUE, b2), ("mg2", MAG, mg2), ("c2", CYAN, c2),
    ("d2", DRED, d2), ("y2", YEL, y2), ("lb2", LBLUE, lb2), ("k2", BLACK, k2),
    ("m3", RED, m3), ("g3", GREEN, g3), ("b3", BLUE, b3), ("c3", CYAN, c3),
    ("d3", DRED, d3), ("y3", YEL, y3), ("lb3", LBLUE, lb3), ("k3", BLACK, k3),
    ("m4", RED, m4), ("g4", GREEN, g4), ("b4", BLUE, b4), ("c4", CYAN, c4),
    ("d4", DRED, d4), ("y4", YEL, y4), ("m5", RED, m5), ("g1", GREEN, g1), ("b5", BLUE, b5),
    ("y5", YEL, y5), ("r6", RED, r6), ("b6", BLUE, b6), ("r7", RED, r7), ("b7", BLUE, b7),
]
TRACED_SERIES = [
    ("yel_up2", YEL, yel_up2), ("cyan_up3", CYAN, cyan_up3), ("lblue_low2", LBLUE, lblue_low2),
    ("cyan_up2", CYAN, cyan_up2), ("dred_up2", DRED, dred_up2), ("blue_up2", BLUE, blue_up2),
    ("red_up3", RED, red_up3), ("blue_up3", BLUE, blue_up3), ("red_up2", RED, red_up2),
    ("cyan_flat", CYAN, cyan_flat), ("blue_low1", BLUE, blue_low1), ("mag_a", MAG, mag_a),
    ("mag_b", MAG, mag_b), ("green_bottom", GREEN, green_bottom), ("blue_d", BLUE, blue_d),
    ("dred_top", DRED, dred_top), ("cyan_top", CYAN, cyan_top), ("black_top", BLACK, black_top),
    ("lblue_top", LBLUE, lblue_top), ("blue_b", BLUE, blue_b), ("blue_a", BLUE, blue_a),
    ("red_top", RED, red_top),
]

rows = []
order = 0
for name, col, vals in GRID_SERIES:
    order += 1
    for h, v in zip(HALF_HOURS, vals):
        rows.append({"name": f"{order:03d}_{name}", "col": col, "h": h, "v": v})
for name, col, pts in TRACED_SERIES:
    order += 1
    for h, v in pts:
        rows.append({"name": f"{order:03d}_{name}", "col": col, "h": h, "v": v})
df = pd.DataFrame(rows)

W, H = 569, 414
xscale = alt.Scale(domain=[0, 23.75], nice=False, zero=False)
yscale = alt.Scale(domain=[-40, 40], nice=False, zero=False)

xaxis = alt.Axis(values=X_TICKS, title="Hour of Day", grid=False, domain=False, ticks=False,
                 labelPadding=3, labelFont=FONT, labelFontSize=FS, labelColor="#000",
                 labelOverlap=False, labelFlush=False,
                 titleFont=FONT, titleFontSize=FS, titleFontWeight="normal", titleColor="#000",
                 titleY=26, titleBaseline="bottom")
yaxis = alt.Axis(values=Y_TICKS, title="Cumulative (Z*Z)-1", grid=False, domain=False, ticks=False,
                 labelPadding=8, labelFont=FONT, labelFontSize=FS, labelColor="#000",
                 labelExpr="'' + datum.value", labelOverlap=False, labelFlush=False,
                 titleFont=FONT, titleFontSize=FS, titleFontWeight="normal", titleColor="#000",
                 titleX=-36, titleY=H / 2, titleBaseline="middle", titleAlign="center")

X = alt.X("h:Q", scale=xscale, axis=xaxis)
Y = alt.Y("v:Q", scale=yscale, axis=yaxis)

lines = alt.Chart(df).mark_line(strokeWidth=1.15, clip=True).encode(
    x=X, y=Y,
    color=alt.Color("col:N", scale=None),
    detail="name:N",
)

xt = pd.DataFrame({"h": X_TICKS})
yt = pd.DataFrame({"v": Y_TICKS})
tick_style = dict(color="#000", strokeWidth=1)
xt_bottom = alt.Chart(xt).mark_rule(**tick_style).encode(x=X, y=alt.value(H), y2=alt.value(H - 6))
xt_top = alt.Chart(xt).mark_rule(**tick_style).encode(x=X, y=alt.value(0), y2=alt.value(6))
yt_left = alt.Chart(yt).mark_rule(**tick_style).encode(y=Y, x=alt.value(0), x2=alt.value(6))
yt_right = alt.Chart(yt).mark_rule(**tick_style).encode(y=Y, x=alt.value(W), x2=alt.value(W - 6))

title_df = pd.DataFrame({"t": [TITLE]})
title_mark = alt.Chart(title_df).mark_text(
    font=FONT, fontSize=11.5, color="#000", align="center", baseline="alphabetic"
).encode(text="t:N", x=alt.value(W / 2), y=alt.value(-12.5))

chart = alt.layer(lines, xt_bottom, xt_top, yt_left, yt_right, title_mark).properties(
    width=W, height=H,
    autosize=alt.AutoSizeParams(type="none"),
    padding={"left": 43, "top": 24, "right": 10, "bottom": 26},
    background="white",
).configure_view(stroke="#000", strokeWidth=1)

chart.save("out.html", embed_options={"renderer": "svg", "actions": False})
